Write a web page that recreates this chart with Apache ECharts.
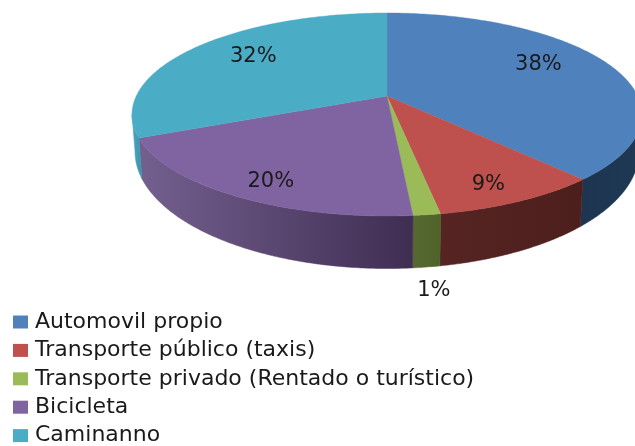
<!DOCTYPE html>
<html><head><meta charset="utf-8">
<style>html,body{margin:0;padding:0;background:#fff}#c{width:635px;height:446px}</style>
<script src="https://cdn.jsdelivr.net/npm/echarts@6/dist/echarts.min.js"></script>
</head><body><div id="c"></div>
<script>
const categories = ['Automovil propio','Transporte público (taxis)','Transporte privado (Rentado o turístico)','Bicicleta','Caminanno'];
const values = [38.2, 9.0, 1.45, 19.85, 31.5];
const labels = ['38%','9%','1%','20%','32%'];
const topColors = ['#4F81BD','#BE504D','#9BBB59','#8064A2','#4BACC6'];
const wallLeft = ['#1d3550','#562523','#56692f','#74608f','#48a6bf'];
const wallRight = ['#1f3854','#4c1e1c','#4f6229','#402d52','#3a93ab'];
const labelNudge = [[9,-10],[15,20],[21,117],[-17,21],[-10,-8]];

// Projected disc geometry (perspective view of a round pie)
const faceEllipse = {cx:387, cy:114.5, rx:255, ry:101.5};
const baseEllipse = {cx:387, cy:151.5, rx:252, ry:117};
const apex = {x:387, y:96};
const persp = 0.831;
const total = values.reduce((a,b)=>a+b,0);

function project(share){ // share of the pie (0-1, clockwise from top) -> ellipse parameter in radians
  const t = share*2*Math.PI, half = t/2;
  if (share>=0.9999) return 2*Math.PI;
  if (Math.abs(Math.cos(half))<1e-9) return t;
  let h = Math.atan(persp*Math.tan(half));
  if (h<0) h += Math.PI;
  return 2*h;
}
function pt(e,p){ return [e.cx+e.rx*Math.sin(p), e.cy-e.ry*Math.cos(p)]; }
function arc(e,a,b){ const pts=[]; const n=Math.max(2,Math.ceil(Math.abs(b-a)/0.012));
  for(let i=0;i<=n;i++) pts.push(pt(e,a+(b-a)*i/n)); return pts; }

function makeRender(idx){
  return function(params, api){
    const v = api.value(0);
    let before = 0; for(let i=0;i<idx;i++) before += values[i];
    const a = project(before/total), b = project((before+v)/total);
    const children = [];
    const wa = Math.max(a, Math.PI/2), wb = Math.min(b, Math.PI*1.5);
    if (wb>wa){
      const tp = arc(faceEllipse,wa,wb), bp = arc(baseEllipse,wa,wb).reverse();
      const xs = tp.concat(bp).map(p=>p[0]);
      const minX = Math.min(...xs), maxX = Math.max(...xs);
      const f = {type:'linear',x:minX,y:0,x2:maxX,y2:0,global:true,
        colorStops:[{offset:0,color:wallLeft[idx]},{offset:1,color:wallRight[idx]}]};
      children.push({type:'polygon',shape:{points:tp.concat(bp)},style:{fill:f,stroke:f,lineWidth:0.5}});
    }
    const face = [[apex.x,apex.y]].concat(arc(faceEllipse,a,b));
    children.push({type:'polygon',shape:{points:face},style:{fill:topColors[idx],stroke:topColors[idx],lineWidth:0.4}});
    const m = pt(faceEllipse, project((before+v/2)/total));
    const lx = apex.x+0.65*(m[0]-apex.x)+labelNudge[idx][0];
    const ly = apex.y+0.65*(m[1]-apex.y)+labelNudge[idx][1];
    children.push({type:'text',z2:10,style:{x:lx,y:ly,text:labels[idx],fill:'#1a1a1a',
      font:'21px "DejaVu Sans"',align:'center',verticalAlign:'middle'}});
    return {type:'group',children};
  };
}

const chart = echarts.init(document.getElementById('c'),null,{renderer:'canvas'});
chart.setOption({
  animation:false,
  backgroundColor:'#fff',
  legend:{orient:'vertical',left:13,top:311,height:300,padding:0,itemWidth:15,itemHeight:13,itemGap:6.4,
    icon:'rect',selectedMode:false,data:categories,
    textStyle:{fontFamily:'DejaVu Sans',fontSize:22,color:'#1a1a1a',padding:[0,0,0,2]}},
  series:categories.map((name,i)=>({
    type:'custom',name,coordinateSystem:'none',silent:true,
    itemStyle:{color:topColors[i]},
    data:[[values[i]]],
    renderItem:makeRender(i)
  }))
});
</script></body></html>
